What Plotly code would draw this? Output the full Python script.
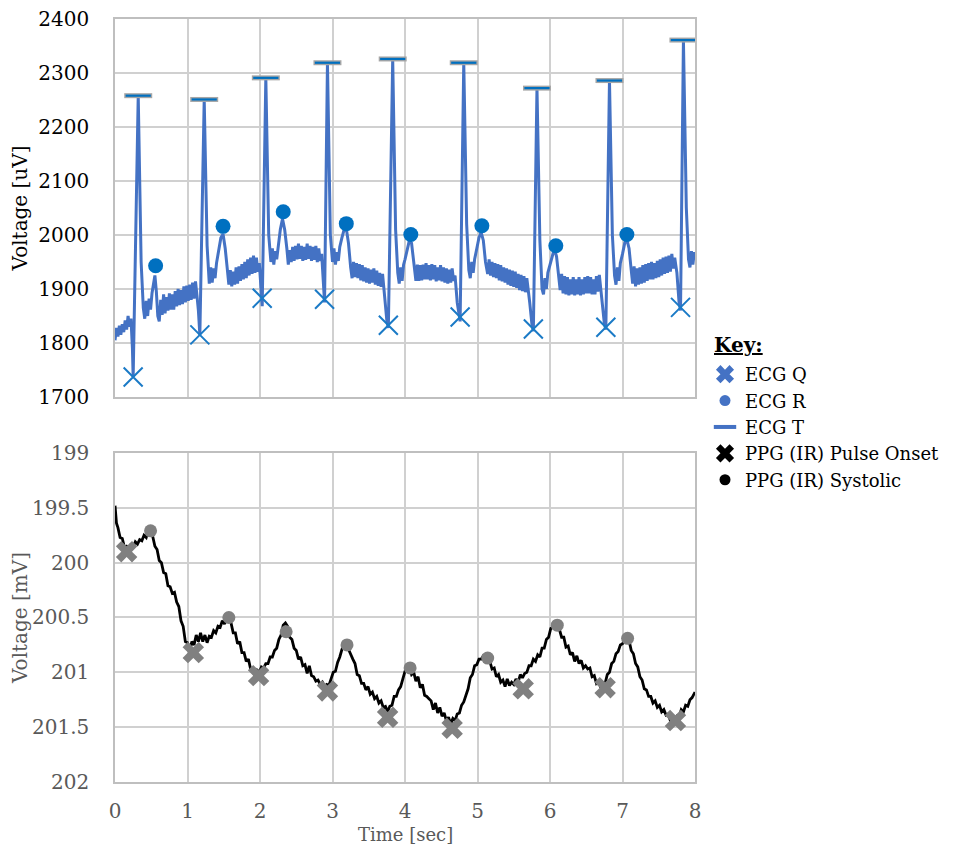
import plotly.graph_objects as go

# ---------------- DATA ----------------
# ECG trace (time [s], voltage [uV])
ecg_trace = [
    (0.00,1805),(0.02,1828),(0.04,1812),(0.06,1832),(0.08,1815),(0.10,1835),(0.12,1820),(0.14,1842),
    (0.16,1825),(0.18,1850),(0.20,1830),(0.22,1845),(0.24,1790),(0.25,1737),(0.32,2258),(0.36,1950),
    (0.39,1865),(0.41,1845),(0.43,1878),(0.45,1850),(0.47,1882),(0.49,1862),(0.51,1892),(0.53,1908),
    (0.55,1925),(0.57,1895),(0.59,1850),(0.61,1840),(0.63,1880),(0.65,1852),(0.67,1890),(0.69,1855),
    (0.71,1885),(0.73,1860),(0.75,1892),(0.77,1862),(0.79,1890),(0.81,1862),(0.83,1896),(0.85,1868),
    (0.87,1900),(0.89,1870),(0.91,1898),(0.93,1872),(0.95,1905),(0.97,1875),(0.99,1906),(1.01,1878),
    (1.03,1908),(1.05,1880),(1.07,1912),(1.09,1882),(1.11,1914),(1.13,1888),(1.15,1860),(1.17,1815),
    (1.23,2251),(1.27,1980),(1.30,1910),(1.32,1940),(1.34,1912),(1.36,1938),(1.38,1920),(1.40,1948),
    (1.43,1975),(1.46,1995),(1.49,2002),(1.52,1975),(1.55,1935),(1.57,1908),(1.59,1935),(1.61,1905),
    (1.63,1932),(1.65,1908),(1.67,1940),(1.69,1910),(1.71,1942),(1.73,1915),(1.75,1946),(1.77,1918),
    (1.79,1950),(1.81,1920),(1.83,1955),(1.85,1925),(1.87,1958),(1.89,1928),(1.91,1962),(1.93,1930),
    (1.95,1958),(1.97,1932),(1.99,1948),(2.01,1905),(2.03,1868),(2.08,2291),(2.12,2000),(2.15,1950),
    (2.17,1975),(2.19,1945),(2.21,1970),(2.23,1955),(2.25,1982),(2.28,2010),(2.31,2030),(2.34,2010),
    (2.37,1975),(2.39,1945),(2.41,1972),(2.43,1950),(2.45,1978),(2.47,1952),(2.49,1980),(2.51,1955),
    (2.53,1984),(2.55,1956),(2.57,1980),(2.59,1952),(2.61,1978),(2.63,1954),(2.65,1984),(2.67,1956),
    (2.69,1980),(2.71,1952),(2.73,1978),(2.75,1954),(2.77,1980),(2.79,1950),(2.81,1975),(2.83,1952),
    (2.85,1965),(2.87,1915),(2.89,1875),(2.93,2319),(2.97,2000),(3.00,1950),(3.02,1975),(3.04,1945),
    (3.06,1968),(3.08,1952),(3.10,1978),(3.13,1995),(3.16,2010),(3.19,2012),(3.22,1985),(3.25,1940),
    (3.27,1920),(3.29,1950),(3.31,1922),(3.33,1948),(3.35,1920),(3.37,1946),(3.39,1916),(3.41,1944),
    (3.43,1914),(3.45,1940),(3.47,1912),(3.49,1938),(3.51,1910),(3.53,1936),(3.55,1912),(3.57,1938),
    (3.59,1908),(3.61,1934),(3.63,1906),(3.65,1930),(3.67,1904),(3.69,1928),(3.71,1900),(3.73,1875),
    (3.75,1840),(3.77,1828),(3.83,2326),(3.87,2010),(3.90,1930),(3.92,1910),(3.94,1940),(3.96,1915),
    (3.98,1945),(4.00,1955),(4.03,1975),(4.06,1990),(4.09,1985),(4.12,1950),(4.15,1915),(4.17,1945),
    (4.19,1915),(4.21,1944),(4.23,1916),(4.25,1945),(4.27,1918),(4.29,1948),(4.31,1918),(4.33,1944),
    (4.35,1916),(4.37,1946),(4.39,1918),(4.41,1944),(4.43,1914),(4.45,1940),(4.47,1916),(4.49,1944),
    (4.51,1914),(4.53,1940),(4.55,1912),(4.57,1938),(4.59,1910),(4.61,1936),(4.63,1912),(4.65,1938),
    (4.67,1915),(4.69,1925),(4.72,1875),(4.76,1840),(4.81,2319),(4.85,2020),(4.88,1935),(4.90,1920),
    (4.92,1950),(4.94,1930),(4.96,1955),(4.99,1975),(5.02,1995),(5.05,2005),(5.08,1990),(5.11,1950),
    (5.14,1928),(5.16,1955),(5.18,1925),(5.20,1950),(5.22,1922),(5.24,1948),(5.26,1920),(5.28,1946),
    (5.30,1916),(5.32,1944),(5.34,1914),(5.36,1940),(5.38,1912),(5.40,1938),(5.42,1908),(5.44,1936),
    (5.46,1906),(5.48,1934),(5.50,1904),(5.52,1932),(5.54,1902),(5.56,1928),(5.58,1898),(5.60,1926),
    (5.62,1896),(5.64,1924),(5.66,1894),(5.68,1920),(5.70,1900),(5.72,1875),(5.75,1835),(5.77,1822),
    (5.82,2272),(5.86,1990),(5.89,1900),(5.91,1890),(5.93,1920),(5.95,1900),(5.97,1930),(6.00,1945),
    (6.03,1965),(6.06,1975),(6.09,1960),(6.12,1920),(6.14,1898),(6.16,1928),(6.18,1892),(6.20,1924),
    (6.22,1890),(6.24,1922),(6.26,1888),(6.28,1918),(6.30,1890),(6.32,1922),(6.34,1888),(6.36,1918),
    (6.38,1890),(6.40,1922),(6.42,1888),(6.44,1918),(6.46,1890),(6.48,1922),(6.50,1892),(6.52,1924),
    (6.54,1892),(6.56,1922),(6.58,1890),(6.60,1918),(6.62,1890),(6.64,1924),(6.66,1895),(6.68,1926),
    (6.70,1900),(6.72,1875),(6.75,1835),(6.77,1825),(6.82,2286),(6.86,2000),(6.89,1925),(6.91,1908),
    (6.93,1940),(6.95,1915),(6.97,1948),(7.00,1965),(7.03,1985),(7.06,1992),(7.09,1975),(7.12,1935),
    (7.14,1910),(7.16,1942),(7.18,1905),(7.20,1938),(7.22,1908),(7.24,1940),(7.26,1910),(7.28,1944),
    (7.30,1912),(7.32,1946),(7.34,1915),(7.36,1948),(7.38,1918),(7.40,1950),(7.42,1918),(7.44,1948),
    (7.46,1920),(7.48,1952),(7.50,1922),(7.52,1955),(7.54,1925),(7.56,1958),(7.58,1928),(7.60,1960),
    (7.62,1930),(7.64,1962),(7.66,1932),(7.68,1965),(7.70,1938),(7.72,1958),(7.75,1930),(7.78,1875),
    (7.80,1860),(7.84,2361),(7.88,2050),(7.91,1955),(7.93,1940),(7.95,1970),(7.97,1945),(7.99,1968),
    (8.00,1955),
]

# ECG annotated points
ecg_q_time = [0.25, 1.17, 2.03, 2.89, 3.77, 4.76, 5.77, 6.77, 7.80]
ecg_q_uv   = [1737, 1815, 1883, 1881, 1833, 1848, 1826, 1829, 1866]
ecg_r_time = [0.56, 1.49, 2.32, 3.19, 4.08, 5.06, 6.08, 7.06]
ecg_r_uv   = [1943, 2016, 2043, 2021, 2001, 2017, 1980, 2001]
ecg_t_time = [0.32, 1.23, 2.08, 2.93, 3.83, 4.81, 5.82, 6.82, 7.84]
ecg_t_uv   = [2258, 2251, 2291, 2319, 2326, 2319, 2272, 2286, 2361]

# PPG (IR) trace (time [s], voltage [mV])
ppg_trace = [
    (0.00,199.48),(0.02,199.64),(0.04,199.68),(0.07,199.77),(0.10,199.78),(0.13,199.86),(0.16,199.85),
    (0.19,199.87),(0.22,199.83),(0.25,199.86),(0.28,199.81),(0.31,199.83),(0.34,199.79),(0.37,199.80),
    (0.40,199.75),(0.43,199.77),(0.46,199.70),(0.49,199.74),(0.52,199.76),(0.55,199.85),(0.58,199.88),
    (0.61,199.98),(0.64,200.00),(0.67,200.09),(0.70,200.10),(0.73,200.21),(0.76,200.22),(0.79,200.28),
    (0.82,200.27),(0.85,200.36),(0.88,200.40),(0.91,200.53),(0.94,200.58),(0.97,200.72),(1.00,200.73),
    (1.03,200.80),(1.06,200.72),(1.09,200.75),(1.12,200.66),(1.15,200.72),(1.18,200.64),(1.21,200.72),
    (1.24,200.66),(1.27,200.73),(1.30,200.67),(1.33,200.68),(1.36,200.62),(1.39,200.64),(1.42,200.58),
    (1.45,200.59),(1.48,200.53),(1.51,200.56),(1.54,200.51),(1.57,200.50),(1.60,200.55),(1.63,200.64),
    (1.66,200.64),(1.69,200.74),(1.72,200.72),(1.75,200.82),(1.78,200.82),(1.81,200.90),(1.84,200.88),
    (1.87,200.97),(1.90,200.96),(1.93,201.03),(1.96,200.98),(1.99,201.00),(2.02,200.95),(2.05,200.96),
    (2.08,200.92),(2.11,200.92),(2.14,200.86),(2.17,200.86),(2.20,200.80),(2.23,200.78),(2.26,200.70),
    (2.29,200.66),(2.32,200.57),(2.35,200.55),(2.38,200.58),(2.41,200.68),(2.44,200.70),(2.47,200.78),
    (2.50,200.80),(2.53,200.88),(2.56,200.86),(2.59,200.94),(2.62,200.93),(2.65,201.01),(2.68,200.94),
    (2.71,201.03),(2.74,201.04),(2.77,201.08),(2.80,201.07),(2.83,201.11),(2.86,201.09),(2.89,201.13),
    (2.92,201.11),(2.95,201.12),(2.98,201.06),(3.01,201.00),(3.04,200.99),(3.07,200.91),(3.10,200.86),
    (3.13,200.79),(3.16,200.76),(3.19,200.75),(3.22,200.79),(3.25,200.84),(3.28,200.88),(3.31,200.92),
    (3.34,201.02),(3.37,201.03),(3.40,201.10),(3.43,201.10),(3.46,201.16),(3.49,201.13),(3.52,201.20),
    (3.55,201.18),(3.58,201.24),(3.61,201.22),(3.64,201.28),(3.67,201.26),(3.70,201.32),(3.73,201.31),
    (3.76,201.36),(3.79,201.31),(3.82,201.30),(3.85,201.22),(3.88,201.22),(3.91,201.16),(3.94,201.13),
    (3.97,201.06),(4.00,200.99),(4.03,200.95),(4.06,200.96),(4.09,201.02),(4.12,201.00),(4.15,201.08),
    (4.18,201.04),(4.21,201.14),(4.24,201.11),(4.27,201.21),(4.30,201.22),(4.33,201.24),(4.36,201.26),
    (4.39,201.34),(4.42,201.28),(4.45,201.37),(4.48,201.32),(4.51,201.40),(4.54,201.37),(4.57,201.44),
    (4.60,201.41),(4.63,201.47),(4.66,201.42),(4.69,201.44),(4.72,201.38),(4.75,201.37),(4.78,201.30),
    (4.81,201.27),(4.84,201.20),(4.87,201.15),(4.90,201.05),(4.93,201.02),(4.96,200.94),(4.99,200.93),
    (5.02,200.88),(5.05,200.88),(5.08,200.85),(5.11,200.86),(5.14,200.90),(5.17,200.90),(5.20,200.97),
    (5.23,200.96),(5.26,201.04),(5.29,201.02),(5.32,201.09),(5.35,201.07),(5.38,201.13),(5.41,201.06),
    (5.44,201.12),(5.47,201.09),(5.50,201.11),(5.53,201.06),(5.56,201.09),(5.59,201.02),(5.62,201.05),
    (5.65,201.01),(5.68,201.00),(5.71,200.94),(5.74,200.94),(5.77,200.88),(5.80,200.90),(5.83,200.84),
    (5.86,200.86),(5.89,200.78),(5.92,200.78),(5.95,200.70),(5.98,200.68),(6.01,200.60),(6.04,200.59),
    (6.07,200.55),(6.10,200.57),(6.13,200.61),(6.16,200.68),(6.19,200.68),(6.22,200.77),(6.25,200.76),
    (6.28,200.84),(6.31,200.82),(6.34,200.90),(6.37,200.85),(6.40,200.92),(6.43,200.89),(6.46,200.96),
    (6.49,200.94),(6.52,200.97),(6.55,200.96),(6.58,201.04),(6.61,201.03),(6.64,201.10),(6.67,201.08),
    (6.70,201.14),(6.73,201.11),(6.76,201.10),(6.79,201.02),(6.82,201.00),(6.85,200.92),(6.88,200.90),
    (6.91,200.83),(6.94,200.81),(6.97,200.75),(7.00,200.74),(7.03,200.70),(7.06,200.69),(7.09,200.71),
    (7.12,200.80),(7.15,200.83),(7.18,200.92),(7.21,200.95),(7.24,201.04),(7.27,201.07),(7.30,201.15),
    (7.33,201.16),(7.36,201.22),(7.39,201.22),(7.42,201.28),(7.45,201.26),(7.48,201.32),(7.51,201.30),
    (7.54,201.36),(7.57,201.34),(7.60,201.39),(7.63,201.38),(7.66,201.44),(7.69,201.42),(7.72,201.45),
    (7.75,201.40),(7.78,201.41),(7.81,201.34),(7.84,201.36),(7.87,201.30),(7.90,201.31),(7.93,201.25),
    (7.96,201.23),(7.99,201.19),(8.00,201.18),
]

ppg_onset_time = [0.16, 1.08, 1.98, 2.93, 3.76, 4.65, 5.63, 6.76, 7.73]
ppg_onset_mv   = [199.90, 200.82, 201.03, 201.17, 201.41, 201.51, 201.15, 201.14, 201.44]
ppg_sys_time   = [0.49, 1.57, 2.36, 3.20, 4.07, 5.14, 6.10, 7.07]
ppg_sys_mv     = [199.71, 200.50, 200.63, 200.75, 200.96, 200.87, 200.57, 200.69]

x_ticks = [0, 1, 2, 3, 4, 5, 6, 7, 8]
legend_names = ["ECG Q", "ECG R", "ECG T", "PPG (IR) Pulse Onset", "PPG (IR) Systolic"]

# ---------------- FIGURE ----------------
FONT = "DejaVu Serif"
ecg_t, ecg_v = zip(*ecg_trace)
ppg_t, ppg_v = zip(*ppg_trace)

fig = go.Figure()

# top: ECG
fig.add_trace(go.Scatter(x=ecg_t, y=ecg_v, mode="lines", line=dict(color="#4472C4", width=3),
                         xaxis="x", yaxis="y", showlegend=False, hoverinfo="skip"))
fig.add_trace(go.Scatter(x=ecg_t_time, y=ecg_t_uv, mode="markers", xaxis="x", yaxis="y", showlegend=False,
                         marker=dict(symbol="line-ew", size=20, line=dict(color="#A6A6A6", width=5))))
fig.add_trace(go.Scatter(x=ecg_t_time, y=ecg_t_uv, mode="markers", xaxis="x", yaxis="y", showlegend=False,
                         marker=dict(symbol="line-ew", size=18, line=dict(color="#0070C0", width=2.2))))
fig.add_trace(go.Scatter(x=ecg_r_time, y=ecg_r_uv, mode="markers", xaxis="x", yaxis="y", showlegend=False,
                         marker=dict(symbol="circle", size=15, color="#0070C0", line=dict(width=0))))
fig.add_trace(go.Scatter(x=ecg_q_time, y=ecg_q_uv, mode="markers", xaxis="x", yaxis="y", showlegend=False,
                         marker=dict(symbol="x-thin", size=19, line=dict(color="#1A7AC6", width=2))))

# bottom: PPG
fig.add_trace(go.Scatter(x=ppg_t, y=ppg_v, mode="lines", line=dict(color="#000000", width=2.8),
                         xaxis="x2", yaxis="y2", showlegend=False, hoverinfo="skip"))
fig.add_trace(go.Scatter(x=ppg_onset_time, y=ppg_onset_mv, mode="markers", xaxis="x2", yaxis="y2",
                         showlegend=False,
                         marker=dict(symbol="x", size=19, color="#808080", line=dict(width=0))))
fig.add_trace(go.Scatter(x=ppg_sys_time, y=ppg_sys_mv, mode="markers", xaxis="x2", yaxis="y2",
                         showlegend=False,
                         marker=dict(symbol="circle", size=13, color="#808080", line=dict(width=0))))

# legend ("Key") entries
leg_markers = [
    dict(symbol="x", size=16, color="#4472C4", line=dict(width=0)),
    dict(symbol="circle", size=11, color="#4472C4", line=dict(width=0)),
    dict(symbol="line-ew", size=16, color="#4472C4", line=dict(color="#4472C4", width=4)),
    dict(symbol="x", size=16, color="#000000", line=dict(width=0)),
    dict(symbol="circle", size=11, color="#000000", line=dict(width=0)),
]
for i, (nm, mk) in enumerate(zip(legend_names, leg_markers)):
    fig.add_trace(go.Scatter(x=[None], y=[None], mode="markers", name=nm, marker=mk,
                             xaxis="x2", yaxis="y2", legendgroup=f"g{i}", showlegend=True))

grid = "#D0D0D0"
border = "#BFBFBF"
common_x = dict(range=[0, 8], tickvals=x_ticks, showgrid=True, gridcolor=grid, gridwidth=1.5,
                showline=True, linecolor=border, linewidth=1.5, mirror=True, zeroline=False,
                domain=[0.1116, 0.7164], automargin=False)

fig.update_layout(
    width=959, height=846,
    margin=dict(l=0, r=0, t=0, b=0, autoexpand=False),
    paper_bgcolor="white", plot_bgcolor="white",
    font=dict(family=FONT, color="#000000"),
    xaxis=dict(**common_x, anchor="y", showticklabels=False),
    yaxis=dict(domain=[0.5402, 0.9870], range=[1700, 2400], dtick=100, anchor="x", automargin=False,
               showgrid=True, gridcolor=grid, gridwidth=1.5, showline=True, linecolor=border,
               linewidth=1.5, mirror=True, zeroline=False, ticklabeloverflow="allow",
               tickfont=dict(size=20, color="#000000", family=FONT), ticklabelstandoff=20,
               title=dict(text="Voltage [uV]", font=dict(size=20, color="#000000", family=FONT),
                          standoff=12)),
    xaxis2=dict(**common_x, anchor="y2", ticklabeloverflow="allow",
                tickfont=dict(size=20, color="#595959", family=FONT), ticklabelstandoff=10),
    yaxis2=dict(domain=[0.0851, 0.4740], range=[202, 199], dtick=0.5, anchor="x2", automargin=False,
                showgrid=True, gridcolor=grid, gridwidth=1.5, showline=True, linecolor=border,
                linewidth=1.5, mirror=True, zeroline=False, ticklabeloverflow="allow",
                tickfont=dict(size=20, color="#595959", family=FONT), ticklabelstandoff=20,
                title=dict(text="Voltage [mV]", font=dict(size=20, color="#595959", family=FONT),
                           standoff=4)),
    legend=dict(x=0.7268, y=0.5887, xanchor="left", yanchor="top",
                font=dict(size=18, color="#000000", family=FONT),
                tracegroupgap=0, itemsizing="trace", bgcolor="rgba(0,0,0,0)"),
    showlegend=True,
    annotations=[
        dict(text="<b><u>Key:</u></b>", xref="paper", yref="paper", x=0.7341, y=0.6017,
             xanchor="left", yanchor="middle", showarrow=False,
             font=dict(size=20, color="#000000", family=FONT)),
        dict(text="Time [sec]", xref="paper", yref="paper", x=0.414, y=0.0232,
             xanchor="center", yanchor="middle", showarrow=False,
             font=dict(size=18, color="#595959", family=FONT)),
    ],
)

fig.write_html("out.html")
